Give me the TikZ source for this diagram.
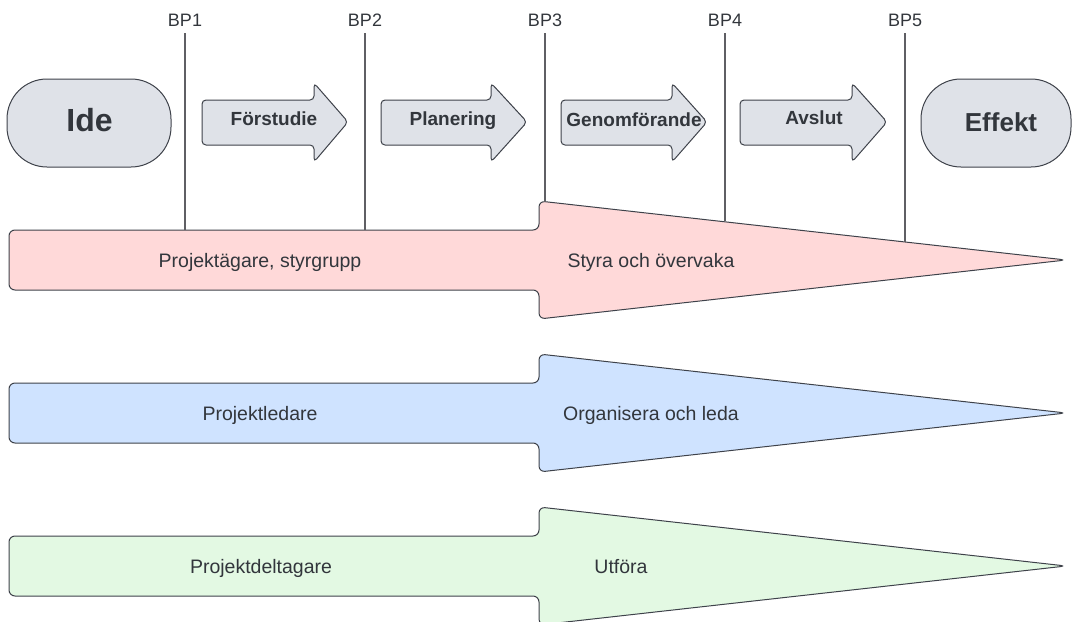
\documentclass[tikz,border=0pt]{standalone}
\usepackage{fontspec}
\setmainfont{Liberation Sans}
\usepackage{tikz}

\definecolor{edgegray}{RGB}{62,66,74}
\definecolor{linegray}{RGB}{95,95,100}
\definecolor{textgray}{RGB}{50,54,60}
\definecolor{phasefill}{RGB}{223,226,232}
\definecolor{ownerfill}{RGB}{255,217,217}
\definecolor{leadfill}{RGB}{207,227,255}
\definecolor{teamfill}{RGB}{227,249,227}

\tikzset{
  endbox/.style={draw=edgegray,line width=1pt,fill=phasefill,rounded corners=40pt,
    minimum height=88pt,inner sep=0pt},
  phasearrow/.style={draw=edgegray,line width=1pt,fill=phasefill,rounded corners=4pt},
  rolearrow/.style={draw=edgegray,line width=1pt,rounded corners=6pt},
  phaselabel/.style={font=\fontsize{19}{21}\selectfont\bfseries,text=textgray,inner sep=0pt,anchor=base},
  rolelabel/.style={font=\fontsize{19.5}{22}\selectfont,text=textgray,inner sep=0pt,anchor=base},
  bplabel/.style={font=\fontsize{18}{20}\selectfont,text=textgray,inner sep=0pt,anchor=base},
  bpline/.style={draw=linegray,line width=1.1pt}
}

\begin{document}
\begin{tikzpicture}[x=1pt,y=-1pt]
      \useasboundingbox (0,0) rectangle (1073,621);

      \node[endbox,minimum width=164pt] (ide) at (89,123) {};
      \node[phaselabel,font=\fontsize{32}{34}\selectfont\bfseries] (idetext) at (89.5,131) {Ide};
      \node[endbox,minimum width=150pt] (effekt) at (996,123) {};
      \node[phaselabel,font=\fontsize{26}{28}\selectfont\bfseries] (effekttext) at (1001,131) {Effekt};

      \draw[phasearrow] (202,100) -- (314,100) -- (314,83) -- (348,122) -- (314,162) -- (314,145) -- (202,145) -- cycle;
      \draw[phasearrow] (381,100) -- (491,100) -- (491,83) -- (527,122) -- (491,162) -- (491,145) -- (381,145) -- cycle;
      \draw[phasearrow] (561,100) -- (672,100) -- (672,83) -- (707,122) -- (672,162) -- (672,145) -- (561,145) -- cycle;
      \draw[phasearrow] (740,100) -- (852,100) -- (852,83) -- (887,122) -- (852,162) -- (852,145) -- (740,145) -- cycle;

      \node[phaselabel] (forstudie) at (274,125.5) {Förstudie};
      \node[phaselabel] (planering) at (453,125.5) {Planering};
      \node[phaselabel] (genomforande) at (634,126.5) {Genomförande};
      \node[phaselabel] (avslut) at (814,124.5) {Avslut};

      \draw[rolearrow,fill=ownerfill] (9,230) -- (539,230) -- (539,201) -- (1066,260) -- (539,319) -- (539,290) -- (9,290) -- cycle;
      \draw[rolearrow,fill=leadfill] (9,383) -- (539,383) -- (539,354) -- (1066,413) -- (539,472) -- (539,443) -- (9,443) -- cycle;
      \draw[rolearrow,fill=teamfill] (9,536) -- (539,536) -- (539,507) -- (1066,566) -- (539,625) -- (539,596) -- (9,596) -- cycle;

      \node[rolelabel] (owner) at (260,267) {Projektägare, styrgrupp};
      \node[rolelabel] (steer) at (651,267) {Styra och övervaka};
      \node[rolelabel] (lead) at (260,420) {Projektledare};
      \node[rolelabel] (organise) at (651,420) {Organisera och leda};
      \node[rolelabel] (member) at (261,573) {Projektdeltagare};
      \node[rolelabel] (perform) at (621,573) {Utföra};

      \node[bplabel] (bp1) at (185,27) {BP1};
      \node[bplabel] (bp2) at (365,27) {BP2};
      \node[bplabel] (bp3) at (545,27) {BP3};
      \node[bplabel] (bp4) at (725,27) {BP4};
      \node[bplabel] (bp5) at (905,27) {BP5};

      \coordinate (bp1end) at (185,230);
      \coordinate (bp2end) at (365,230);
      \coordinate (bp3end) at (545,201.7);
      \coordinate (bp4end) at (725,221);
      \coordinate (bp5end) at (905,242);

      \draw[bpline] (185,33) -- (bp1end);
      \draw[bpline] (365,33) -- (bp2end);
      \draw[bpline] (545,33) -- (bp3end);
      \draw[bpline] (725,33) -- (bp4end);
      \draw[bpline] (905,33) -- (bp5end);
    \end{tikzpicture}
\end{document}
